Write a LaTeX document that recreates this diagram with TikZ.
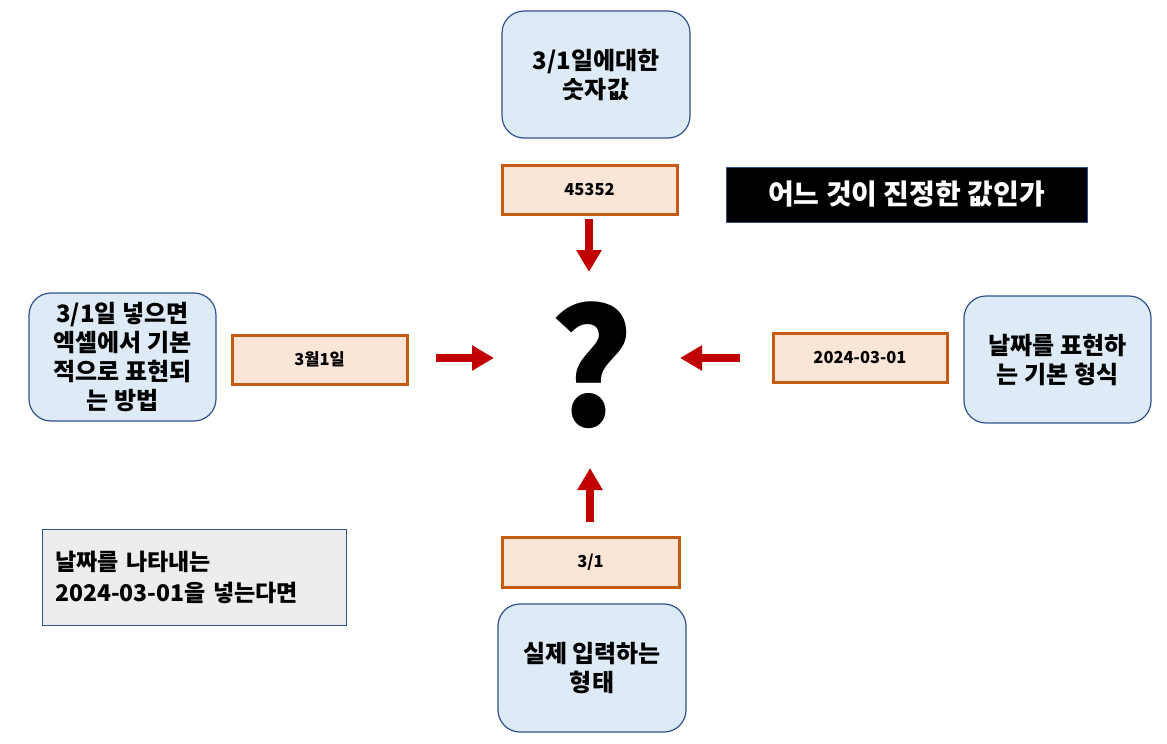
\documentclass[tikz,border=0pt]{standalone}
\usepackage{fontspec}
\setmainfont{Noto Sans CJK KR}
\usetikzlibrary{arrows.meta}
\definecolor{lblue}{HTML}{DEEBF7}
\definecolor{bborder}{HTML}{2F528F}
\definecolor{peach}{HTML}{FBE5D6}
\definecolor{oborder}{HTML}{C55A11}
\definecolor{lgray}{HTML}{EDEDED}
\definecolor{darrow}{HTML}{C00000}
\begin{document}
\begin{tikzpicture}[x=1pt,y=-1pt,
  bluebox/.style={draw=bborder, line width=1.2pt, fill=lblue, rounded corners=22pt,
    inner sep=0pt, align=center, font=\bfseries\fontsize{24}{29}\selectfont},
  valbox/.style={draw=oborder, line width=3pt, fill=peach, inner sep=0pt,
    font=\bfseries\fontsize{16.5}{20}\selectfont},
  bigarrow/.style={draw=darrow, line width=8pt, -{Triangle[width=24pt,length=22pt]}},
]
\useasboundingbox (0,0) rectangle (1167,744);

% explanation boxes
\node[bluebox, minimum width=188pt, minimum height=127pt] (top) at (596,74.5) {3/1일에대한\\숫자값};
\node[bluebox, minimum width=187pt, minimum height=128pt] (left) at (122.5,357) {3/1일 넣으면\\엑셀에서 기본\\적으로 표현되\\는 방법};
\node[bluebox, minimum width=187pt, minimum height=127pt] (right) at (1057.5,359.5) {날짜를 표현하\\는 기본 형식};
\node[bluebox, minimum width=188pt, minimum height=128pt] (bottom) at (592,668) {실제 입력하는\\형태};

% value boxes
\node[valbox, minimum width=175pt, minimum height=49pt] (v1) at (589.5,189.5) {45352};
\node[valbox, minimum width=175pt, minimum height=49pt] (v2) at (319.5,359.5) {3월1일};
\node[valbox, minimum width=174pt, minimum height=49pt] (v3) at (860,357.5) {2024-03-01};
\node[valbox, minimum width=177pt, minimum height=50pt] (v4) at (590.5,562) {3/1};

% question mark
\node[font=\bfseries\fontsize{160}{160}\selectfont, inner sep=0pt] (q) at (591,365) {?};

% title box
\node[draw=bborder, line width=1pt, fill=black, text=white, inner sep=0pt,
  minimum width=361pt, minimum height=55pt, font=\bfseries\fontsize{28}{32}\selectfont] (title) at (906.5,194.5) {어느 것이 진정한 값인가};

% note box
\node[draw=bborder, line width=1pt, fill=lgray, inner sep=0pt, inner xsep=13pt,
  minimum height=96pt, text width=278pt, align=left,
  font=\bfseries\fontsize{23}{31}\selectfont] (note) at (194,577) {날짜를 나타내는\\2024-03-01을 넣는다면};

% arrows
\coordinate (d1) at (589,219);
\coordinate (d2) at (589,272);
\coordinate (r1) at (436,358);
\coordinate (r2) at (494,358);
\coordinate (l1) at (740,358);
\coordinate (l2) at (680,358);
\coordinate (u1) at (590,522);
\coordinate (u2) at (590,468);
\draw[bigarrow] (d1) -- (d2);
\draw[bigarrow] (r1) -- (r2);
\draw[bigarrow] (l1) -- (l2);
\draw[bigarrow] (u1) -- (u2);
\end{tikzpicture}
\end{document}
